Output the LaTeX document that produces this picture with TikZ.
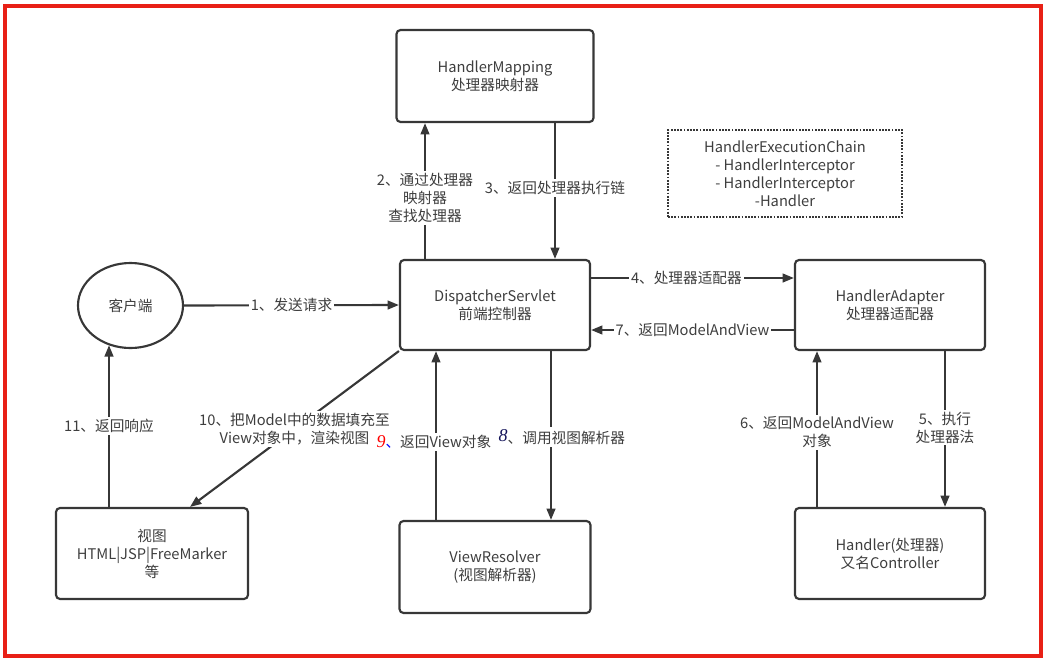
\documentclass[tikz,border=0pt]{standalone}
\usepackage{fontspec}
\setmainfont{Noto Sans CJK SC}
\newfontfamily\numfont{Liberation Serif}
\usetikzlibrary{arrows.meta,shapes.geometric}
\definecolor{framered}{RGB}{232,32,22}
\definecolor{ink}{RGB}{55,55,55}
\definecolor{txt}{RGB}{62,62,62}
\definecolor{numblue}{RGB}{20,20,90}

\begin{document}
\begin{tikzpicture}[x=0.75pt,y=-0.75pt,
  box/.style={draw=ink,line width=1.6pt,rounded corners=3pt,align=center,text=txt,
    font=\fontsize{11}{13.5}\selectfont},
  lbl/.style={fill=white,inner sep=1.5pt,align=center,text=txt,
    font=\fontsize{11}{13.5}\selectfont},
  arr/.style={draw=ink,line width=1.6pt,-{Triangle[length=8.5pt,width=6.5pt]}}]
  \useasboundingbox (0,0) rectangle (1054,664);
  \draw[framered,line width=3pt] (5,6) rectangle (1041,656);

  % boxes
  \node[box,minimum width=147.75pt,minimum height=69pt] (hm) at (495,76) {HandlerMapping\\处理器映射器};
  \node[box,minimum width=142.5pt,minimum height=67.5pt] (ds) at (495,305) {DispatcherServlet\\前端控制器};
  \node[box,minimum width=142.5pt,minimum height=67.5pt] (ha) at (890,305) {HandlerAdapter\\处理器适配器};
  \node[box,minimum width=142.5pt,minimum height=68.25pt] (hd) at (890,553.5) {Handler(处理器)\\又名Controller};
  \node[box,minimum width=143.25pt,minimum height=69pt] (vr) at (495,567) {ViewResolver\\(视图解析器)};
  \node[box,minimum width=144pt,minimum height=68.25pt] (vw) at (152,553.5) {视图\\HTML|JSP|FreeMarker\\等};
  \node[box,ellipse,rounded corners=0pt,inner sep=0pt,minimum width=78.75pt,minimum height=63.75pt] (cl) at (130.5,305.5) {客户端};
  \node[box,rounded corners=0pt,dash pattern=on 1.3pt off 1.1pt,minimum width=175.5pt,minimum height=65.25pt] (chain) at (785,173.5)
    {HandlerExecutionChain\\- HandlerInterceptor\\- HandlerInterceptor\\-Handler};

  % request side
  \draw[arr] (cl.east) -- node[lbl,pos=0.5] (l1) {1、发送请求} (ds.west);
  \draw[arr] ([xshift=-52.5pt]ds.north) -- node[lbl,pos=0.45] (l2) {2、通过处理器\\映射器\\查找处理器} ([xshift=-52.5pt]hm.south);
  \draw[arr] ([xshift=45pt]hm.south) -- node[lbl,pos=0.48] (l3) {3、返回处理器执行链} ([xshift=45pt]ds.north);

  % adapter side
  \draw[arr] ([yshift=20.25pt]ds.east) -- node[lbl,pos=0.47] (l4) {4、处理器适配器} ([yshift=20.25pt]ha.west);
  \draw[arr] ([xshift=41.25pt]ha.south) -- node[lbl,pos=0.49] (l5) {5、执行\\处理器法} ([xshift=41.25pt]hd.north);
  \draw[arr] ([xshift=-54.75pt]hd.north) -- node[lbl,pos=0.48] (l6) {6、返回ModelAndView\\对象} ([xshift=-54.75pt]ha.south);
  \draw[arr] ([yshift=-18.75pt]ha.west) -- node[lbl,pos=0.5] (l7) {7、返回ModelAndView} ([yshift=-18.75pt]ds.east);

  % view side
  \draw[arr] (ds.south west) -- node[lbl,pos=0.5] (l10) {10、把Model中的数据填充至\\View对象中，渲染视图} ([xshift=28.5pt]vw.north);
  \draw[arr] ([xshift=42pt]ds.south) -- node[lbl,pos=0.51,anchor=west,xshift=-40.5pt,inner xsep=0.5pt] (l8)
    {\raisebox{2pt}{\numfont\fontsize{13.5}{13.5}\selectfont\itshape\color{numblue}8}、调用视图解析器} ([xshift=42pt]vr.north);
  \draw[arr] ([xshift=-44.25pt]vr.north) -- node[lbl,pos=0.46,anchor=east,xshift=42.75pt,inner xsep=0.5pt] (l9)
    {{\numfont\fontsize{13.5}{13.5}\selectfont\itshape\color{red}9}{\color{blue}、}返回View对象} ([xshift=-44.25pt]ds.south);
  \coordinate (c11) at ([xshift=-32.25pt]vw.north);
  \draw[arr] (c11) -- node[lbl,pos=0.5] (l11) {11、返回响应} (c11 |- cl.241);
\end{tikzpicture}
\end{document}
